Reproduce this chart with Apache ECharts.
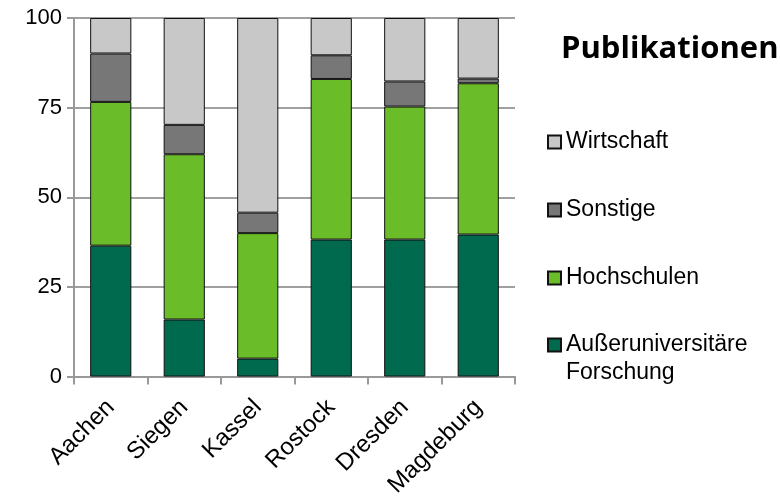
<!DOCTYPE html>
<html>
<head>
<meta charset="utf-8">
<script src="https://cdn.jsdelivr.net/npm/echarts@6/dist/echarts.min.js"></script>
<style>
  html, body { margin: 0; padding: 0; background: #fff; }
  #container { width: 780px; height: 500px; }
</style>
</head>
<body>
<div id="container"></div>
<script>
// Anteile der Publikationen je Standort (in %)
let cities = ["Aachen", "Siegen", "Kassel", "Rostock", "Dresden", "Magdeburg"];
let ausseruni = [36.5, 15.9, 5.0, 38.2, 38.2, 39.6];
let hochschulen = [40.1, 46.1, 35.0, 44.8, 37.1, 42.2];
let sonstige = [13.5, 8.2, 5.7, 6.6, 7.0, 1.3];
let wirtschaft = [9.9, 29.8, 54.3, 10.4, 17.7, 16.9];
let yTicks = [0, 25, 50, 75, 100];

let fontFam = "'Liberation Sans', Arial, sans-serif";
let aussName = "Außeruniversitäre Forschung";
let dom = document.getElementById("container");
let myChart = echarts.init(dom, null, { renderer: "canvas" });

function barSeries(name, data, color) {
  return {
    name: name,
    type: "bar",
    stack: "total",
    barCategoryGap: "44%",
    data: data,
    itemStyle: { color: color, borderColor: "#111", borderWidth: 1 },
  };
}

let legendText = { fontFamily: fontFam, fontSize: 23, color: "#000", lineHeight: 28 };

let option = {
  animation: false,
  title: {
    text: "Publikationen",
    left: 556,
    top: 29,
    textStyle: {
      fontFamily: "'Open Sans', sans-serif",
      fontWeight: "bold",
      fontSize: 31,
      color: "#000",
    },
  },
  legend: [
    {
      orient: "vertical",
      left: 542,
      top: 123,
      itemWidth: 13,
      itemHeight: 13,
      itemGap: 40,
      icon: "rect",
      textStyle: legendText,
      data: ["Wirtschaft", "Sonstige", "Hochschulen"],
    },
    {
      // two-line entry; leading empty line keeps the icon next to the first text line
      orient: "vertical",
      left: 542,
      top: 298,
      itemWidth: 13,
      itemHeight: 13,
      icon: "rect",
      textStyle: legendText,
      formatter: function () {
        return "\nAußeruniversitäre\nForschung";
      },
      data: [aussName],
    },
  ],
  grid: { left: 74, right: 265, top: 18, bottom: 121 },
  xAxis: {
    type: "category",
    data: cities,
    axisLine: { lineStyle: { color: "#999", width: 2 } },
    axisTick: { show: true, length: 8, lineStyle: { color: "#999", width: 2 } },
    axisLabel: {
      rotate: 45,
      margin: 27,
      interval: 0,
      fontFamily: fontFam,
      fontSize: 24,
      color: "#000",
    },
  },
  yAxis: {
    type: "value",
    min: yTicks[0],
    max: yTicks[yTicks.length - 1],
    interval: 25,
    axisLine: { show: true, lineStyle: { color: "#999", width: 2 } },
    axisTick: { show: true, length: 7, lineStyle: { color: "#999", width: 2 } },
    splitLine: { lineStyle: { color: "#a0a0a0", width: 2 } },
    axisLabel: { margin: 12, fontFamily: fontFam, fontSize: 22, color: "#000" },
  },
  series: [
    barSeries(aussName, ausseruni, "#006a4e"),
    barSeries("Hochschulen", hochschulen, "#6abd28"),
    barSeries("Sonstige", sonstige, "#777777"),
    barSeries("Wirtschaft", wirtschaft, "#c8c8c8"),
  ],
};

myChart.setOption(option);
window.addEventListener("resize", myChart.resize);
</script>
</body>
</html>
